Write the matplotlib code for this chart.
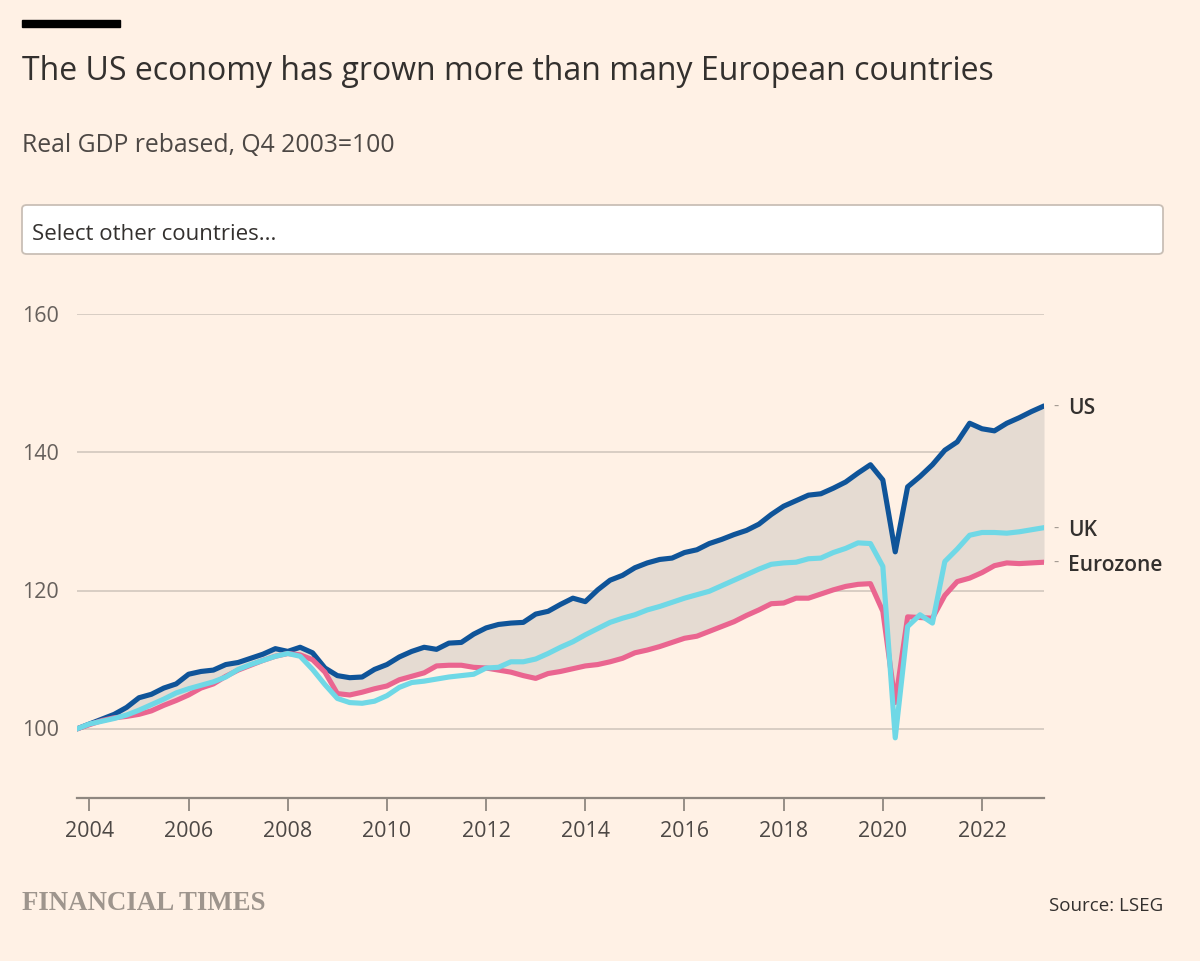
import numpy as np
import pandas as pd
import matplotlib
matplotlib.use("Agg")
import matplotlib.pyplot as plt
import matplotlib.transforms as mtransforms
from matplotlib.patches import FancyBboxPatch, Rectangle

# ---------------- data ----------------
start_quarter = "2003Q4"
end_quarter = "2023Q2"

us = [100.0, 100.7, 101.4, 102.1, 103.1, 104.5, 105.0, 105.9, 106.5, 107.9,
      108.3, 108.5, 109.3, 109.6, 110.2, 110.8, 111.6, 111.2, 111.8, 111.0,
      108.8, 107.7, 107.4, 107.5, 108.6, 109.3, 110.4, 111.2, 111.8, 111.5,
      112.4, 112.5, 113.7, 114.6, 115.1, 115.3, 115.4, 116.6, 117.0, 118.0,
      118.9, 118.4, 120.1, 121.5, 122.2, 123.3, 124.0, 124.5, 124.7, 125.5,
      125.9, 126.8, 127.4, 128.1, 128.7, 129.6, 131.0, 132.2, 133.0, 133.8,
      134.0, 134.8, 135.7, 137.0, 138.2, 136.0, 125.6, 135.0, 136.5, 138.2,
      140.3, 141.5, 144.2, 143.4, 143.1, 144.2, 145.0, 145.9, 146.7]

eurozone = [100.0, 100.6, 101.2, 101.6, 101.8, 102.1, 102.6, 103.4, 104.1, 104.9,
            105.9, 106.5, 107.6, 108.5, 109.2, 109.9, 110.5, 110.9, 110.7, 110.0,
            108.2, 105.1, 104.9, 105.3, 105.8, 106.2, 107.1, 107.6, 108.1, 109.1,
            109.2, 109.2, 108.9, 108.8, 108.5, 108.2, 107.7, 107.3, 108.0, 108.3,
            108.7, 109.1, 109.3, 109.7, 110.2, 111.0, 111.4, 111.9, 112.5, 113.1,
            113.4, 114.1, 114.8, 115.5, 116.4, 117.2, 118.1, 118.2, 118.9, 118.9,
            119.5, 120.1, 120.6, 120.9, 121.0, 117.0, 103.8, 116.2, 116.1, 116.0,
            119.3, 121.3, 121.8, 122.6, 123.6, 124.0, 123.9, 124.0, 124.1]

uk = [100.0, 100.7, 101.1, 101.5, 102.0, 102.7, 103.5, 104.3, 105.2, 105.8,
      106.3, 106.8, 107.5, 108.6, 109.3, 109.9, 110.5, 110.9, 110.5, 108.6,
      106.4, 104.4, 103.8, 103.7, 104.0, 104.8, 106.0, 106.7, 106.9, 107.2,
      107.5, 107.7, 107.9, 108.8, 108.9, 109.7, 109.7, 110.1, 110.9, 111.8,
      112.6, 113.6, 114.5, 115.4, 116.0, 116.5, 117.2, 117.7, 118.3, 118.9,
      119.4, 119.9, 120.7, 121.5, 122.3, 123.1, 123.8, 124.0, 124.1, 124.6,
      124.7, 125.5, 126.1, 126.9, 126.8, 123.5, 98.7, 114.8, 116.5, 115.3,
      124.2, 126.0, 128.0, 128.4, 128.4, 128.3, 128.5, 128.8, 129.1]

y_ticks = [100, 120, 140, 160]
x_ticks = [2004, 2006, 2008, 2010, 2012, 2014, 2016, 2018, 2020, 2022]

title = "The US economy has grown more than many European countries"
subtitle = "Real GDP rebased, Q4 2003=100"
dropdown_text = "Select other countries..."
source = "Source: LSEG"
brand = "FINANCIAL TIMES"

# quarter positions as decimal years (quarter start)
periods = pd.period_range(start_quarter, end_quarter, freq="Q")
x = np.array([p.year + (p.quarter - 1) / 4 for p in periods])

# ---------------- style ----------------
BG = "#fff1e5"
TXT = "#33302e"
GRID = "#d6cbc1"
AXIS = "#8f8780"
C_US = "#0f5499"
C_EZ = "#ea6590"
C_UK = "#6fd8e6"
FILL = "#e5dbd2"
FONT = "Open Sans"

W, H = 1200, 961
fig = plt.figure(figsize=(W / 100, H / 100), dpi=100, facecolor=BG)


def fx(px):
    return px / W


def fy(py):
    return 1 - py / H


ax = fig.add_axes([fx(77), fy(798), fx(1044) - fx(77), fy(314) - fy(798)])
ax.set_facecolor(BG)
ax.set_xlim(x[0], x[-1])
ax.set_ylim(90, 160)

for s in ["top", "right", "left"]:
    ax.spines[s].set_visible(False)
ax.spines["bottom"].set_color(AXIS)
ax.spines["bottom"].set_linewidth(1.6)

ax.set_yticks(y_ticks)
ax.set_yticklabels([])
ax.tick_params(axis="y", length=0)
ax.grid(axis="y", color=GRID, linewidth=1.3)
ax.set_axisbelow(True)

ax.set_xticks(x_ticks)
ax.set_xticklabels([str(t) for t in x_ticks], fontsize=15.5, color="#4d4845",
                   fontfamily=FONT)
ax.tick_params(axis="x", length=9, width=1.3, color=AXIS, pad=7.5)

# y labels at left edge of figure
ytrans = mtransforms.blended_transform_factory(fig.transFigure, ax.transData)
ytrans = ytrans + mtransforms.ScaledTranslation(0, -2 / 100, fig.dpi_scale_trans)
for v in y_ticks:
    ax.text(fx(22), v, str(v), transform=ytrans, ha="left", va="center",
            fontsize=15.5, color="#66605c", fontfamily=FONT)

ax.fill_between(x, us, eurozone, color=FILL, linewidth=0, zorder=1)
lw = 3.7
ax.plot(x, us, color=C_US, lw=lw, solid_joinstyle="round", solid_capstyle="round", zorder=3)
ax.plot(x, eurozone, color=C_EZ, lw=lw, solid_joinstyle="round", solid_capstyle="round", zorder=4)
ax.plot(x, uk, color=C_UK, lw=lw, solid_joinstyle="round", solid_capstyle="round", zorder=5)

# end labels
for name, vals in [("US", us), ("UK", uk), ("Eurozone", eurozone)]:
    ax.annotate("-", xy=(x[-1], vals[-1]), xytext=(9, -1), textcoords="offset pixels",
                ha="left", va="center", fontsize=12, color="#a39a92", annotation_clip=False,
                fontfamily=FONT)
    ax.annotate(name, xy=(x[-1], vals[-1]), xytext=(24, -3), textcoords="offset pixels",
                ha="left", va="center", fontsize=15, color=TXT, fontweight="semibold",
                annotation_clip=False, fontfamily=FONT)

# ---------------- header ----------------
fig.patches.append(Rectangle((fx(22), fy(27)), fx(120) - fx(22), fy(20) - fy(27),
                             transform=fig.transFigure, color="#000000", zorder=5))
fig.text(fx(22), fy(72), title, ha="left", va="center", fontsize=23, color=TXT,
         fontfamily=FONT)
fig.text(fx(22), fy(146), subtitle, ha="left", va="center", fontsize=17.8, color="#4d4845",
         fontfamily=FONT)

box = FancyBboxPatch((fx(22), fy(254)), fx(1163) - fx(22), fy(205) - fy(254),
                     boxstyle="round,pad=0,rounding_size=0.004",
                     transform=fig.transFigure, facecolor="#ffffff",
                     edgecolor="#c9bfb6", linewidth=1.3)
fig.patches.append(box)
fig.text(fx(32), fy(234), dropdown_text, ha="left", va="center", fontsize=16, color=TXT,
         fontfamily=FONT)

# ---------------- footer ----------------
fig.text(fx(22), fy(904), brand, ha="left", va="center", fontsize=19.4, color="#9e958d",
         fontfamily="Liberation Serif", fontweight="bold")
fig.text(fx(1163), fy(906), source, ha="right", va="center", fontsize=13.5, color=TXT,
         fontfamily=FONT)

fig.savefig("out.png", dpi=100, facecolor=BG)
